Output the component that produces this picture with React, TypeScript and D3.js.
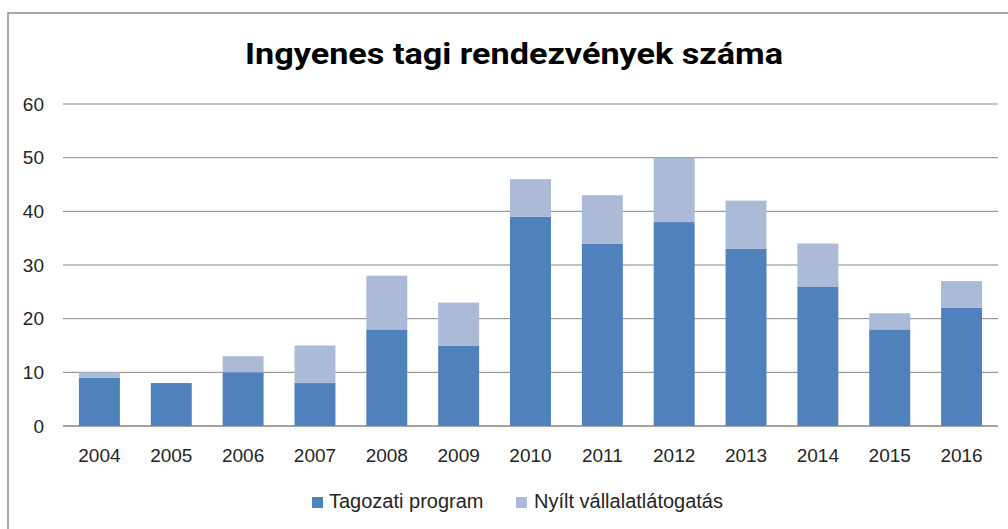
import React from "react";
import * as d3 from "d3";

const years = ["2004","2005","2006","2007","2008","2009","2010","2011","2012","2013","2014","2015","2016"];
const tagozati = [9, 8, 10, 8, 18, 15, 39, 34, 38, 33, 26, 18, 22];
const nyilt = [1, 0, 3, 7, 10, 8, 7, 9, 12, 9, 8, 3, 5];
const yTicks = [0, 10, 20, 30, 40, 50, 60];
const seriesNames = ["Tagozati program", "Nyílt vállalatlátogatás"];
const colors = ["#4F81BD", "#AABAD7"];

export default function App() {
  const W = 1008, H = 529;
  const x = d3.scaleBand().domain(years).range([63.5, 997.5]).paddingInner(0.43).paddingOuter(0.215);
  const y = d3.scaleLinear().domain([0, 60]).range([426, 104]);
  const font = "'Liberation Sans', Arial, sans-serif";
  return (
    <svg width={W} height={H} style={{ position: "absolute", left: 0, top: 0 }}>
      <rect x={0} y={0} width={W} height={H} fill="#fff" />
      <rect x={8} y={13} width={1100} height={600} fill="none" stroke="#8c8c8c" strokeWidth={1.5} />
      <text x={514} y={64} textAnchor="middle" fontFamily="Roboto, sans-serif" fontWeight={700} fontSize={29} fill="#000"
        textLength={538} lengthAdjust="spacingAndGlyphs">
        Ingyenes tagi rendezvények száma
      </text>
      {yTicks.map(t => (
        <g key={t}>
          <line x1={63} x2={998} y1={y(t)} y2={y(t)} stroke="#868686" strokeWidth={1} />
          <text x={44} y={y(t)} dy="0.35em" textAnchor="end" fontFamily={font} fontSize={19} fill="#262626">{t}</text>
        </g>
      ))}
      {years.map((yr, i) => {
        const bx = x(yr)!;
        const bw = x.bandwidth();
        return (
          <g key={yr}>
            <rect x={bx} width={bw} y={y(tagozati[i])} height={y(0) - y(tagozati[i])} fill={colors[0]} />
            {nyilt[i] > 0 && (
              <rect x={bx} width={bw} y={y(tagozati[i] + nyilt[i])} height={y(tagozati[i]) - y(tagozati[i] + nyilt[i])} fill={colors[1]} />
            )}
            <text x={bx + bw / 2} y={462} textAnchor="middle" fontFamily={font} fontSize={19} fill="#262626">{yr}</text>
          </g>
        );
      })}
      <line x1={63} x2={998} y1={y(0)} y2={y(0)} stroke="#868686" strokeWidth={1} />
      <g>
        <rect x={312} y={497} width={11} height={11} fill={colors[0]} />
        <text x={329} y={508} fontFamily={font} fontSize={20} fill="#262626">{seriesNames[0]}</text>
        <rect x={516} y={497} width={11} height={11} fill={colors[1]} />
        <text x={534} y={508} fontFamily={font} fontSize={20} fill="#262626">{seriesNames[1]}</text>
      </g>
    </svg>
  );
}
